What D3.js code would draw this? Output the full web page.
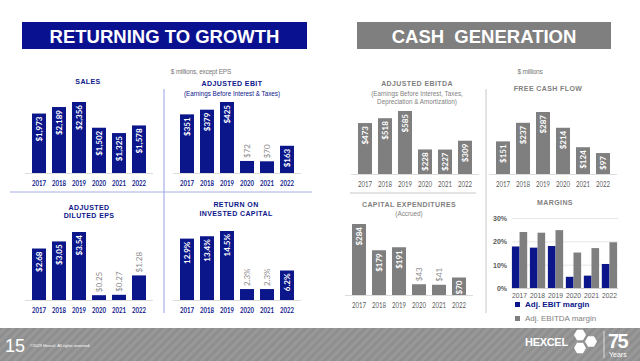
<!DOCTYPE html>
<html>
<head>
<meta charset="utf-8">
<script src="https://cdn.jsdelivr.net/npm/d3@7"></script>
<style>
  body { margin: 0; background: #fff; }
  svg { display: block; font-family: "Liberation Sans", Arial, sans-serif; }
  .num { font-family: "Lato", sans-serif; }
</style>
</head>
<body>
<svg width="640" height="361"></svg>
<script>
const years = ['2017', '2018', '2019', '2020', '2021', '2022']
const sales = [1973, 2189, 2356, 1502, 1325, 1578]
const ebit = [351, 379, 425, 72, 70, 163]
const eps = [2.68, 3.05, 3.54, 0.25, 0.27, 1.28]
const roic = [12.9, 13.4, 14.5, 2.3, 2.3, 6.2]
const ebitda = [473, 518, 585, 228, 227, 309]
const fcf = [151, 237, 287, 214, 124, 97]
const capex = [284, 179, 191, 43, 41, 70]
const ebitMargin = [17.8, 17.3, 18.0, 4.8, 5.3, 10.3]
const ebitdaMargin = [24.0, 23.7, 24.8, 15.2, 17.1, 19.6]
const marginTicks = [0, 10, 20, 30]

const NAVY = '#0b168a'
const GRAY = '#7f7f7f'

const svg = d3.select('svg')
const money = v => '$' + d3.format(',')(v)

// banners
function banner(x, w, fill, label) {
    svg.append('rect').attr('x', x).attr('y', 22).attr('width', w).attr('height', 27).attr('fill', fill)
    svg.append('text').attr('x', x + w / 2).attr('y', 42.5).attr('text-anchor', 'middle')
        .attr('fill', '#fff').style('font-weight', 'bold').style('font-size', '18.5px')
        .attr('xml:space', 'preserve').text(label)
}
banner(22, 285, '#0a1190', 'RETURNING TO GROWTH')
banner(357, 254, GRAY, 'CASH  GENERATION')

svg.append('text').attr('x', 201).attr('y', 74).attr('text-anchor', 'middle')
    .attr('fill', '#777').style('font-size', '6.5px').style('letter-spacing', '-0.2px').text('$ millions, except EPS')
svg.append('text').attr('x', 530).attr('y', 74).attr('text-anchor', 'middle')
    .attr('fill', '#777').style('font-size', '6.5px').style('letter-spacing', '-0.2px').text('$ millions')

// separators
svg.append('line').attr('x1', 164).attr('x2', 164).attr('y1', 89).attr('y2', 313).attr('stroke', '#a7aee4').attr('stroke-width', 1.2)
svg.append('line').attr('x1', 10).attr('x2', 312).attr('y1', 192).attr('y2', 192).attr('stroke', '#a7aee4').attr('stroke-width', 1)
svg.append('line').attr('x1', 486).attr('x2', 486).attr('y1', 89).attr('y2', 313).attr('stroke', '#c8c8c8').attr('stroke-width', 1)
svg.append('line').attr('x1', 350).attr('x2', 476).attr('y1', 193).attr('y2', 193).attr('stroke', '#c8c8c8').attr('stroke-width', 1)

function titles(cx, lines, color) {
    lines.forEach(function (l) {
        svg.append('text').attr('x', cx).attr('y', l[1]).attr('text-anchor', 'middle')
            .attr('fill', color)
            .style('font-weight', l[2] ? 'normal' : 'bold')
            .style('font-size', l[2] ? '6.3px' : '7px')
            .style('letter-spacing', l[2] ? '0' : '0.4px')
            .text(l[0])
    })
}

function panel(p) {
    const g = svg.append('g')
    const x = d3.scaleBand().domain(years).range([p.x0, p.x0 + 120]).paddingInner(0.3).paddingOuter(0.15)
    const y = d3.scaleLinear().domain([0, d3.max(p.values)]).range([p.base, p.top])

    g.append('line').attr('x1', p.x0 - 4).attr('x2', p.x0 + 124).attr('y1', p.base + 0.5).attr('y2', p.base + 0.5)
        .attr('stroke', '#dcdcdc')

    g.selectAll('rect').data(p.values).enter().append('rect')
        .attr('x', (d, i) => x(years[i]))
        .attr('width', x.bandwidth())
        .attr('y', d => y(d))
        .attr('height', d => p.base - y(d))
        .attr('fill', p.color)

    g.selectAll('text.lbl').data(p.values).enter().append('text')
        .attr('class', 'num')
        .attr('transform', function (d, i) {
            const cx = x(years[i]) + x.bandwidth() / 2
            return p.above.includes(i)
                ? `translate(${cx},${y(d) - 3}) rotate(-90)`
                : `translate(${cx},${y(d) + 3}) rotate(-90)`
        })
        .attr('text-anchor', (d, i) => p.above.includes(i) ? 'start' : 'end')
        .attr('dy', '0.36em')
        .attr('fill', (d, i) => p.above.includes(i) ? '#8c8c8c' : '#fff')
        .style('font-size', '8px')
        .style('font-weight', (d, i) => p.above.includes(i) ? 'normal' : 'bold')
        .text(p.fmt)

    g.selectAll('text.yr').data(years).enter().append('text')
        .attr('class', 'num')
        .attr('x', d => x(d) + x.bandwidth() / 2)
        .attr('y', p.base + 13)
        .attr('text-anchor', 'middle')
        .attr('fill', p.color == NAVY ? NAVY : '#595959')
        .attr('textLength', 14).attr('lengthAdjust', 'spacingAndGlyphs')
        .style('font-size', '8px')
        .style('font-weight', p.color == NAVY ? 'bold' : 'normal')
        .text(d => d)
}

// left: returning to growth
titles(88, [['SALES', 84]], NAVY)
panel({ values: sales, fmt: money, x0: 29, base: 173, top: 102, color: NAVY, above: [] })

titles(232, [['ADJUSTED EBIT', 86], ['(Earnings Before Interest & Taxes)', 96, 1]], NAVY)
panel({ values: ebit, fmt: money, x0: 177, base: 173, top: 102, color: NAVY, above: [3, 4] })

titles(89, [['ADJUSTED', 210], ['DILUTED EPS', 218]], NAVY)
panel({ values: eps, fmt: d => '$' + d.toFixed(2), x0: 29, base: 300, top: 232, color: NAVY, above: [3, 4, 5] })

titles(236, [['RETURN ON', 207], ['INVESTED CAPITAL', 216]], NAVY)
panel({ values: roic, fmt: d => d.toFixed(1) + '%', x0: 177, base: 300, top: 231, color: NAVY, above: [3, 4] })

// right: cash generation
titles(417, [['ADJUSTED EBITDA', 86], ['(Earnings Before Interest, Taxes,', 96, 1], ['Depreciation & Amortization)', 104, 1]], GRAY)
panel({ values: ebitda, fmt: money, x0: 355, base: 174, top: 111, color: GRAY, above: [] })

titles(548, [['FREE CASH FLOW', 91]], GRAY)
panel({ values: fcf, fmt: money, x0: 493, base: 174, top: 112, color: GRAY, above: [] })

titles(409, [['CAPITAL EXPENDITURES', 207], ['(Accrued)', 216, 1]], GRAY)
panel({ values: capex, fmt: money, x0: 349, base: 295, top: 224, color: GRAY, above: [3, 4] })

// margins
titles(555, [['MARGINS', 205]], GRAY)
const mx = d3.scaleBand().domain(years).range([511, 618]).paddingInner(0.15).paddingOuter(0.05)
const my = d3.scaleLinear().domain([0, 30]).range([288, 218])
const sub = d3.scaleBand().domain(['ebit', 'ebitda']).range([0, mx.bandwidth()])
const mg = svg.append('g')
mg.selectAll('line.grid').data(marginTicks).enter().append('line')
    .attr('x1', 512).attr('x2', 618)
    .attr('y1', d => my(d) + 0.5).attr('y2', d => my(d) + 0.5)
    .attr('stroke', d => d == 0 ? '#d0d0d0' : '#e6e6e6')
mg.selectAll('text.tick').data(marginTicks).enter().append('text')
    .attr('x', 507).attr('y', d => my(d) + 3)
    .attr('text-anchor', 'end').attr('fill', '#595959')
    .style('font-size', '7px').style('font-weight', 'bold')
    .text(d => d + '%')
mg.selectAll('rect.e').data(ebitMargin).enter().append('rect')
    .attr('x', (d, i) => mx(years[i]) + sub('ebit'))
    .attr('width', sub.bandwidth())
    .attr('y', d => my(d)).attr('height', d => my(0) - my(d))
    .attr('fill', NAVY)
mg.selectAll('rect.d').data(ebitdaMargin).enter().append('rect')
    .attr('x', (d, i) => mx(years[i]) + sub('ebitda'))
    .attr('width', sub.bandwidth())
    .attr('y', d => my(d)).attr('height', d => my(0) - my(d))
    .attr('fill', GRAY)
mg.selectAll('text.yr').data(years).enter().append('text')
    .attr('x', d => mx(d) + mx.bandwidth() / 2).attr('y', 298)
    .attr('text-anchor', 'middle').attr('fill', '#595959')
    .attr('textLength', 15).attr('lengthAdjust', 'spacingAndGlyphs')
    .style('font-size', '7.5px')
    .text(d => d)

const legend = [['Adj. EBIT margin', NAVY, 'bold'], ['Adj. EBITDA margin', GRAY, 'normal']]
legend.forEach(function (l, i) {
    const ly = 307 + i * 14
    svg.append('rect').attr('x', 515).attr('y', ly - 5).attr('width', 5).attr('height', 5).attr('fill', l[1])
    svg.append('text').attr('x', 525).attr('y', ly).attr('fill', l[1])
        .style('font-size', '8px').style('font-weight', l[2]).text(l[0])
})

// footer
const defs = svg.append('defs')
const pat = defs.append('pattern').attr('id', 'carbon').attr('width', 6).attr('height', 6)
    .attr('patternUnits', 'userSpaceOnUse').attr('patternTransform', 'rotate(45)')
pat.append('rect').attr('width', 6).attr('height', 6).attr('fill', '#8e8e8e')
pat.append('rect').attr('width', 3).attr('height', 6).attr('fill', '#989898')
svg.append('rect').attr('x', 0).attr('y', 328).attr('width', 640).attr('height', 33).attr('fill', 'url(#carbon)')
svg.append('text').attr('x', 5).attr('y', 352).attr('fill', '#fff').style('font-size', '18px').text('15')
svg.append('text').attr('x', 30).attr('y', 347).attr('fill', '#fff').style('font-size', '4px').text('©2023 Hexcel. All rights reserved.')

svg.append('text').attr('x', 525).attr('y', 346).attr('fill', '#fff')
    .style('font-size', '11px').style('font-weight', 'bold').style('letter-spacing', '-0.3px').text('HEXCEL')
function hex(cx, cy, r) {
    const pts = d3.range(6).map(k => {
        const a = Math.PI / 3 * k
        return [cx + r * Math.cos(a), cy + r * Math.sin(a)]
    })
    svg.append('polygon').attr('points', pts.map(p => p.join(',')).join(' ')).attr('fill', '#fff')
}
hex(580, 335, 6)
hex(580, 348, 6)
hex(591, 341.5, 6)
svg.append('line').attr('x1', 604).attr('x2', 604).attr('y1', 331).attr('y2', 358).attr('stroke', '#ddd')
svg.append('text').attr('x', 608).attr('y', 348).attr('fill', '#fff')
    .style('font-size', '20px').style('font-weight', 'bold').style('letter-spacing', '-1.5px').text('75')
svg.append('text').attr('x', 609).attr('y', 357).attr('fill', '#fff').style('font-size', '7px').text('Years')
</script>
</body>
</html>
